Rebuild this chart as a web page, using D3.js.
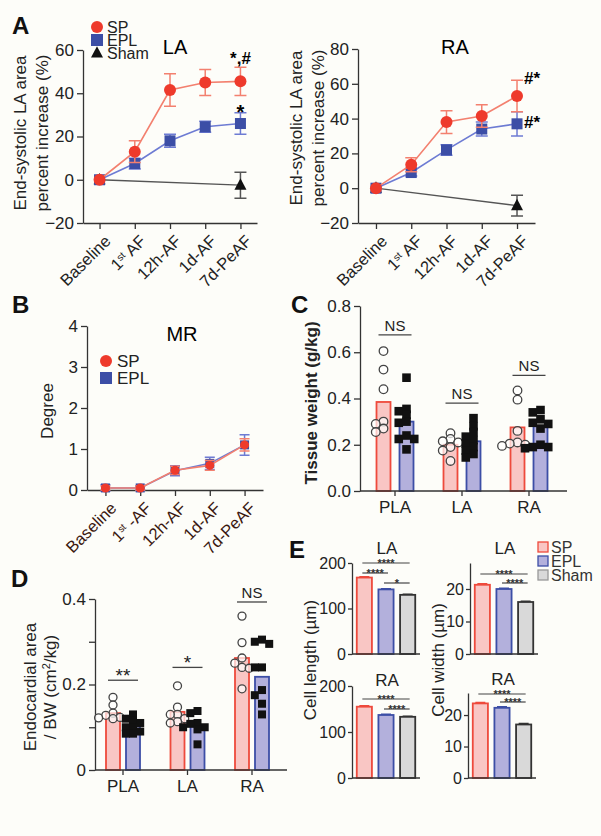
<!DOCTYPE html>
<html><head><meta charset="utf-8">
<script src="https://cdn.jsdelivr.net/npm/d3@7"></script>
<style>
body{margin:0;background:#fdfdf9;}
svg{display:block;font-family:"Liberation Sans",Arial,Helvetica,sans-serif;}
</style>
</head><body>
<svg id="fig" width="601" height="836"></svg>
<script>
// ---------------- DATA ----------------
const timepoints = ["Baseline", "1st AF", "12h-AF", "1d-AF", "7d-PeAF"];
const timepointsB = ["Baseline", "1st -AF", "12h-AF", "1d-AF", "7d-PeAF"];

const laSP = [0, 13, 41.5, 45, 45.5];
const laSPErr = [0, 5, 7.5, 6, 6.5];
const laEPL = [0, 7.5, 18, 24.5, 26];
const laEPLErr = [0, 2.5, 3, 2.5, 5];
const laSham = [0, null, null, null, -2.5];
const laShamErr = [0, null, null, null, 6];

const raSP = [0, 13.5, 38, 41.5, 53];
const raSPErr = [0, 4, 6.5, 6.5, 9];
const raEPL = [0, 9, 22, 34, 37];
const raEPLErr = [0, 2, 3, 4, 7];
const raSham = [0, null, null, null, -10];
const raShamErr = [0, null, null, null, 6];

const mrSP = [0.05, 0.05, 0.48, 0.6, 1.1];
const mrSPErr = [0.05, 0.05, 0.1, 0.12, 0.15];
const mrEPL = [0.05, 0.05, 0.47, 0.65, 1.1];
const mrEPLErr = [0.08, 0.05, 0.12, 0.15, 0.25];

const regions = ["PLA", "LA", "RA"];

// Panel C: tissue weight (g/kg)
const twSPMean = [0.385, 0.2, 0.275];
const twEPLMean = [0.30, 0.215, 0.28];
const twSPPts = [
  [0.605, 0.525, 0.44, 0.30, 0.29, 0.27, 0.255],
  [0.25, 0.225, 0.215, 0.21, 0.19, 0.175, 0.13],
  [0.435, 0.395, 0.26, 0.21, 0.205, 0.20, 0.195]
];
const twEPLPts = [
  [0.49, 0.355, 0.345, 0.33, 0.30, 0.295, 0.24, 0.225, 0.225, 0.18],
  [0.315, 0.28, 0.255, 0.235, 0.22, 0.205, 0.19, 0.175, 0.16, 0.145],
  [0.35, 0.34, 0.31, 0.295, 0.29, 0.27, 0.20, 0.19, 0.185, 0.19]
];
const twSig = ["NS", "NS", "NS"];
const twSigY = [0.675, 0.38, 0.50];

// Panel D: endocardial area / BW (cm2/kg)
const eaSPMean = [0.133, 0.136, 0.262];
const eaEPLMean = [0.103, 0.103, 0.218];
const eaSPPts = [
  [0.17, 0.152, 0.133, 0.128, 0.123, 0.12, 0.122],
  [0.197, 0.147, 0.13, 0.13, 0.12, 0.113, 0.11],
  [0.36, 0.298, 0.262, 0.25, 0.24, 0.238, 0.19]
];
const eaEPLPts = [
  [0.13, 0.12, 0.115, 0.11, 0.10, 0.10, 0.09, 0.085, 0.085],
  [0.138, 0.133, 0.11, 0.108, 0.10, 0.10, 0.095, 0.06],
  [0.305, 0.30, 0.295, 0.24, 0.24, 0.187, 0.175, 0.155, 0.13]
];
const eaSig = ["**", "*", "NS"];
const eaSigY = [0.21, 0.24, 0.393];

// Panel E: cell dimensions
const groupsE = ["SP", "EPL", "Sham"];
const lenLA = [168, 142, 130];
const lenLAErr = [2, 1.5, 1.5];
const widLA = [21.3, 20, 16];
const widLAErr = [0.3, 0.2, 0.2];
const lenRA = [155, 137, 133];
const lenRAErr = [2, 1.5, 1.5];
const widRA = [23.7, 22.3, 17];
const widRAErr = [0.3, 0.3, 0.3];

// ---------------- STYLES ----------------
const C = {
  sp: "#ee3a2c", spLine: "#f3806f", spFill: "#f9c6c4", spStroke: "#ee4a3c",
  epl: "#3c4ea6", eplLine: "#6d7bd3", eplFill: "#b3b0dc", eplStroke: "#3c4ea6",
  sham: "#111111", shamFill: "#d9d9d9", shamStroke: "#333333",
  axis: "#333333", text: "#222222"
};

const svg = d3.select("#fig");

function panelLabel(t, x, y) {
  svg.append("text").attr("x", x).attr("y", y).attr("font-size", 24)
    .attr("font-weight", "bold").attr("fill", "#111").text(t);
}

function addLabelText(sel, label) {
  const m = label.match(/^1st(.*)$/);
  if (m) {
    sel.text(null);
    sel.append("tspan").text("1");
    sel.append("tspan").attr("baseline-shift", "super").attr("font-size", "0.6em").text("st");
    sel.append("tspan").text(m[1]);
  } else sel.text(label);
}

function marker(g, shape, x, y, size, color) {
  if (shape === "circle") {
    g.append("circle").attr("cx", x).attr("cy", y).attr("r", size / 2).attr("fill", color);
  } else if (shape === "square") {
    g.append("rect").attr("x", x - size / 2).attr("y", y - size / 2)
      .attr("width", size).attr("height", size).attr("fill", color);
  } else {
    const h = size * 0.95;
    g.append("path").attr("d", `M${x},${y - h * 0.6}L${x + size / 2},${y + h * 0.4}L${x - size / 2},${y + h * 0.4}Z`)
      .attr("fill", color);
  }
}

function styleAxis(g, fs) {
  g.selectAll("path.domain").attr("stroke", C.axis).attr("stroke-width", 1.3);
  g.selectAll(".tick line").attr("stroke", C.axis).attr("stroke-width", 1.3);
  g.selectAll(".tick text").attr("font-size", fs).attr("fill", C.text)
    .attr("font-family", '"Liberation Sans",Arial,sans-serif');
}

// ---------------- LINE CHART ----------------
function lineChart(o) {
  const g = svg.append("g");
  const x = d3.scalePoint().domain(o.cats).range(o.xr).padding(o.pad);
  const y = d3.scaleLinear().domain(o.yd).range(o.yr);
  const ya = g.append("g").attr("transform", `translate(${o.xr[0]},0)`)
    .call(d3.axisLeft(y).tickValues(o.yticks).tickFormat(d3.format("d")).tickSize(6).tickSizeOuter(0).tickPadding(3));
  styleAxis(ya, o.fs);
  const xa = g.append("g").attr("transform", `translate(0,${o.yr[0]})`)
    .call(d3.axisBottom(x).tickSize(6).tickSizeOuter(0).tickFormat(""));
  styleAxis(xa, o.fs);
  o.cats.forEach((c) => {
    const t = g.append("text")
      .attr("transform", `translate(${x(c) + 4},${o.yr[0] + 11}) rotate(-45)`)
      .attr("text-anchor", "end").attr("dy", "0.7em")
      .attr("font-size", o.xfs).attr("fill", o.labelColor || C.text);
    addLabelText(t, c);
  });
  o.series.forEach(s => {
    const pts = s.vals.map((v, i) => ({ c: o.cats[i], v, e: s.errs[i] })).filter(d => d.v !== null);
    g.append("path").datum(pts)
      .attr("d", d3.line().x(d => x(d.c)).y(d => y(d.v)))
      .attr("fill", "none").attr("stroke", s.line).attr("stroke-width", s.lw || 1.6);
    pts.forEach(d => {
      if (d.e) {
        const cx = x(d.c), cap = o.cap;
        g.append("path")
          .attr("d", `M${cx},${y(d.v - d.e)}V${y(d.v + d.e)}M${cx - cap},${y(d.v + d.e)}h${cap * 2}M${cx - cap},${y(d.v - d.e)}h${cap * 2}`)
          .attr("stroke", s.line).attr("stroke-width", 1.5).attr("fill", "none");
      }
    });
    pts.forEach(d => marker(g, s.shape, x(d.c), y(d.v), s.size, s.color));
  });
  return { g, x, y };
}

function ylab2(x, y, l1, l2, fs, gap) {
  const t = svg.append("text").attr("transform", `translate(${x},${y}) rotate(-90)`)
    .attr("text-anchor", "middle").attr("font-size", fs).attr("fill", C.text);
  t.append("tspan").attr("x", 0).attr("dy", 0).text(l1);
  t.append("tspan").attr("x", 0).attr("dy", gap).text(l2);
}

// ---------------- PANEL A ----------------
panelLabel("A", 12, 34);
const aL = lineChart({
  cats: timepoints, xr: [83, 257], pad: 0.47, yd: [-20, 60], yr: [223, 50],
  yticks: [-20, 0, 20, 40, 60], fs: 17, xfs: 16.5, cap: 6,
  series: [
    { vals: laSham, errs: laShamErr, color: C.sham, line: "#555", shape: "tri", size: 12, lw: 1.3 },
    { vals: laEPL, errs: laEPLErr, color: C.epl, line: C.eplLine, shape: "square", size: 11 },
    { vals: laSP, errs: laSPErr, color: C.sp, line: C.spLine, shape: "circle", size: 12 }
  ]
});
svg.append("text").attr("x", 175).attr("y", 54).attr("text-anchor", "middle").attr("font-size", 20).text("LA");
svg.append("text").attr("x", aL.x("7d-PeAF")).attr("y", 64).attr("text-anchor", "middle").attr("font-size", 17).attr("font-weight", "bold").text("*,#");
svg.append("text").attr("x", aL.x("7d-PeAF")).attr("y", 119).attr("text-anchor", "middle").attr("font-size", 20).attr("font-weight", "bold").text("*");
[["SP", "circle", C.sp, 27], ["EPL", "square", C.epl, 40], ["Sham", "tri", C.sham, 53]].forEach(([t, sh, col, yy]) => {
  marker(svg, sh, 97, yy, 12, col);
  svg.append("text").attr("x", 107).attr("y", yy + 5.5).attr("font-size", 16).attr("fill", C.text).text(t);
});
ylab2(26, 133, "End-systolic LA area", "percent increase (%)", 17, 22);

const aR = lineChart({
  cats: timepoints, xr: [358, 535], pad: 0.51, yd: [-20, 80], yr: [223, 49],
  yticks: [-20, 0, 20, 40, 60, 80], fs: 17, xfs: 16.5, cap: 6,
  series: [
    { vals: raSham, errs: raShamErr, color: C.sham, line: "#555", shape: "tri", size: 12, lw: 1.3 },
    { vals: raEPL, errs: raEPLErr, color: C.epl, line: C.eplLine, shape: "square", size: 11 },
    { vals: raSP, errs: raSPErr, color: C.sp, line: C.spLine, shape: "circle", size: 12 }
  ]
});
svg.append("text").attr("x", 455).attr("y", 54).attr("text-anchor", "middle").attr("font-size", 20).text("RA");
svg.append("text").attr("x", 524).attr("y", 84).attr("font-size", 17).attr("font-weight", "bold").text("#*");
svg.append("text").attr("x", 524).attr("y", 128).attr("font-size", 17).attr("font-weight", "bold").text("#*");
ylab2(302, 128, "End-systolic LA area", "percent increase (%)", 17, 22);

// ---------------- PANEL B ----------------
panelLabel("B", 12, 313);
lineChart({
  cats: timepointsB, xr: [87, 263], pad: 0.53, yd: [0, 4], yr: [490, 326],
  yticks: [0, 1, 2, 3, 4], fs: 17, xfs: 16.5, cap: 5, labelColor: "#3a1810",
  series: [
    { vals: mrEPL, errs: mrEPLErr, color: C.epl, line: C.eplLine, shape: "square", size: 9 },
    { vals: mrSP, errs: mrSPErr, color: C.sp, line: C.spLine, shape: "circle", size: 9 }
  ]
});
svg.append("text").attr("x", 182).attr("y", 341).attr("text-anchor", "middle").attr("font-size", 20).text("MR");
[["SP", "circle", C.sp, 361], ["EPL", "square", C.epl, 378]].forEach(([t, sh, col, yy]) => {
  marker(svg, sh, 106, yy, 12, col);
  svg.append("text").attr("x", 117).attr("y", yy + 6).attr("font-size", 17).attr("fill", C.text).text(t);
});
svg.append("text").attr("transform", "translate(53,411) rotate(-90)").attr("text-anchor", "middle")
  .attr("font-size", 17).attr("fill", C.text).text("Degree");

// ---------------- BAR + SCATTER ----------------
function dodge(vals, y, minDist, step) {
  const placed = [];
  const order = vals.map((v, i) => i).sort((a, b) => vals[b] - vals[a]);
  const offs = [0, -step, step, -2 * step, 2 * step, -3 * step, 3 * step];
  const res = new Array(vals.length);
  order.forEach(i => {
    const py = y(vals[i]);
    for (const o of offs) {
      if (placed.every(p => Math.hypot(p.x - o, p.y - py) >= minDist)) {
        placed.push({ x: o, y: py }); res[i] = o; break;
      }
    }
    if (res[i] === undefined) { res[i] = 0; }
  });
  return res;
}

function scatterBar(o) {
  const g = svg.append("g");
  const x = d3.scalePoint().domain(regions).range(o.xc);
  const y = d3.scaleLinear().domain(o.yd).range(o.yr);
  regions.forEach((r, i) => {
    [[o.spMean[i], -o.off, C.spFill, C.spStroke], [o.eplMean[i], o.off, C.eplFill, C.eplStroke]].forEach(([v, off, f, s]) => {
      g.append("rect").attr("x", x(r) + off - o.bw / 2).attr("y", y(v))
        .attr("width", o.bw).attr("height", y(0) - y(v))
        .attr("fill", f).attr("stroke", s).attr("stroke-width", 1.8);
    });
  });
  const ya = g.append("g").attr("transform", `translate(${o.xa[0]},0)`)
    .call(d3.axisLeft(y).tickValues(o.yticks).tickFormat(o.tf).tickSize(6).tickSizeOuter(0).tickPadding(3));
  styleAxis(ya, o.fs);
  g.append("line").attr("x1", o.xa[0]).attr("x2", o.xa[1]).attr("y1", y(0)).attr("y2", y(0))
    .attr("stroke", C.axis).attr("stroke-width", 1.3);
  regions.forEach(r => {
    g.append("line").attr("x1", x(r)).attr("x2", x(r)).attr("y1", y(0)).attr("y2", y(0) + 5)
      .attr("stroke", C.axis).attr("stroke-width", 1.3);
    g.append("text").attr("x", x(r)).attr("y", y(0) + 22).attr("text-anchor", "middle")
      .attr("font-size", 17).attr("fill", C.text).text(r);
  });
  regions.forEach((r, i) => {
    const sp = o.spPts[i], ep = o.eplPts[i];
    const ds = dodge(sp, y, o.pr * 1.3, o.pr * 1.8);
    sp.forEach((v, j) => g.append("circle").attr("cx", x(r) - o.off + ds[j]).attr("cy", y(v))
      .attr("r", o.pr).attr("fill", "rgba(255,255,255,0.7)").attr("stroke", "#444").attr("stroke-width", 1.3));
    const de = dodge(ep, y, o.pr * 1.3, o.pr * 1.8);
    ep.forEach((v, j) => g.append("rect").attr("x", x(r) + o.off + de[j] - o.pr).attr("y", y(v) - o.pr)
      .attr("width", o.pr * 2).attr("height", o.pr * 2).attr("fill", "#111"));
  });
  regions.forEach((r, i) => {
    const yy = y(o.sigY[i]);
    g.append("line").attr("x1", x(r) - o.off - 5).attr("x2", x(r) + o.off + 5).attr("y1", yy).attr("y2", yy)
      .attr("stroke", "#444").attr("stroke-width", 1.3);
    g.append("text").attr("x", x(r)).attr("y", yy - (o.sig[i] === "NS" ? 4 : -2)).attr("text-anchor", "middle")
      .attr("font-size", o.sig[i] === "NS" ? 15 : 19).attr("fill", C.text).text(o.sig[i]);
  });
  return { x, y };
}

// ---------------- PANEL C ----------------
panelLabel("C", 291, 313);
scatterBar({
  xc: [395, 529], xa: [360, 567], yd: [0, 0.8], yr: [491, 306],
  yticks: [0, 0.2, 0.4, 0.6, 0.8], tf: d3.format(".1f"), fs: 17,
  spMean: twSPMean, eplMean: twEPLMean, spPts: twSPPts, eplPts: twEPLPts,
  sig: twSig, sigY: twSigY, off: 11.5, bw: 14, pr: 4.3
});
svg.append("text").attr("transform", "translate(317,403) rotate(-90)").attr("text-anchor", "middle")
  .attr("font-size", 17).attr("font-weight", "bold").attr("fill", C.text).text("Tissue weight (g/kg)");

// ---------------- PANEL D ----------------
panelLabel("D", 11, 587);
scatterBar({
  xc: [123, 252], xa: [95, 287], yd: [0, 0.4], yr: [770, 599],
  yticks: [0, 0.1, 0.2, 0.3, 0.4], tf: d => (d === 0 ? "0" : (Math.round(d * 10) % 2 === 0 ? d3.format(".1f")(d) : "")), fs: 17,
  spMean: eaSPMean, eplMean: eaEPLMean, spPts: eaSPPts, eplPts: eaEPLPts,
  sig: eaSig, sigY: eaSigY, off: 10, bw: 14, pr: 4
});
{
  const t = svg.append("text").attr("transform", "translate(36,687) rotate(-90)")
    .attr("text-anchor", "middle").attr("font-size", 17).attr("fill", C.text);
  t.append("tspan").attr("x", 0).text("Endocardial area");
  const t2 = t.append("tspan").attr("x", 0).attr("dy", 20);
  t2.append("tspan").text("/ BW (cm");
  t2.append("tspan").attr("baseline-shift", "super").attr("font-size", "0.65em").text("2");
  t2.append("tspan").text("/kg)");
}

// ---------------- PANEL E ----------------
panelLabel("E", 289, 558);
function barE(o) {
  const g = svg.append("g");
  const x = d3.scaleBand().domain(groupsE).range(o.xr).padding(0.3).paddingOuter(0.22);
  const y = d3.scaleLinear().domain(o.yd).range(o.yr);
  const fills = [C.spFill, C.eplFill, C.shamFill], strokes = [C.spStroke, C.eplStroke, C.shamStroke];
  groupsE.forEach((gr, i) => {
    const v = o.vals[i], e = o.errs[i], cx = x(gr) + x.bandwidth() / 2;
    g.append("rect").attr("x", x(gr)).attr("y", y(v)).attr("width", x.bandwidth()).attr("height", y(0) - y(v))
      .attr("fill", fills[i]).attr("stroke", strokes[i]).attr("stroke-width", 1.8);
    g.append("path").attr("d", `M${cx},${y(v)}V${y(v + e)}M${cx - 5},${y(v + e)}h10`)
      .attr("stroke", strokes[i]).attr("stroke-width", 1.5);
  });
  const ya = g.append("g").attr("transform", `translate(${o.xr[0]},0)`)
    .call(d3.axisLeft(y).tickValues(o.yticks).tickSize(4).tickSizeOuter(0).tickPadding(2));
  styleAxis(ya, 16);
  g.append("line").attr("x1", o.xr[0]).attr("x2", o.xr[1]).attr("y1", y(0)).attr("y2", y(0))
    .attr("stroke", C.axis).attr("stroke-width", 1.3);
  g.append("text").attr("x", (o.xr[0] + o.xr[1]) / 2 + 1).attr("y", o.titleY).attr("text-anchor", "middle")
    .attr("font-size", 17).attr("fill", C.text).text(o.title);
  o.sig.forEach(([a, b, txt, yy]) => {
    const x1 = x(a) + x.bandwidth() / 2 - 2, x2 = x(b) + x.bandwidth() / 2 + 2;
    g.append("line").attr("x1", x1).attr("x2", x2).attr("y1", yy).attr("y2", yy).attr("stroke", "#444").attr("stroke-width", 1.2);
    g.append("text").attr("x", (x1 + x2) / 2).attr("y", yy + 4).attr("text-anchor", "middle")
      .attr("font-size", 11).attr("font-weight", "bold").attr("fill", "#333").text(txt);
  });
}
barE({ xr: [352, 420], yd: [0, 200], yr: [654, 563], yticks: [0, 100, 200], vals: lenLA, errs: lenLAErr,
  title: "LA", titleY: 554, sig: [["SP", "Sham", "****", 563], ["SP", "EPL", "****", 573], ["EPL", "Sham", "*", 583]] });
barE({ xr: [470, 538], yd: [0, 28], yr: [654, 563], yticks: [0, 10, 20], vals: widLA, errs: widLAErr,
  title: "LA", titleY: 554, sig: [["SP", "Sham", "****", 574], ["EPL", "Sham", "****", 583]] });
barE({ xr: [352, 420], yd: [0, 200], yr: [778, 686], yticks: [0, 100, 200], vals: lenRA, errs: lenRAErr,
  title: "RA", titleY: 686, sig: [["SP", "Sham", "****", 699], ["EPL", "Sham", "****", 709]] });
barE({ xr: [468, 536], yd: [0, 27], yr: [778, 693], yticks: [0, 10, 20], vals: widRA, errs: widRAErr,
  title: "RA", titleY: 685, sig: [["SP", "Sham", "****", 694], ["EPL", "Sham", "****", 702]] });

svg.append("text").attr("transform", "translate(316,660) rotate(-90)").attr("text-anchor", "middle")
  .attr("font-size", 17).attr("fill", C.text).text("Cell length (\u00b5m)");
svg.append("text").attr("transform", "translate(444,660) rotate(-90)").attr("text-anchor", "middle")
  .attr("font-size", 17).attr("fill", C.text).text("Cell width (\u00b5m)");

[["SP", C.spFill, C.spStroke], ["EPL", C.eplFill, C.eplStroke], ["Sham", C.shamFill, "#999"]].forEach(([t, f, s], i) => {
  const yy = 547 + i * 14;
  svg.append("rect").attr("x", 538).attr("y", yy - 5).attr("width", 10).attr("height", 10)
    .attr("fill", f).attr("stroke", s).attr("stroke-width", 1.3);
  svg.append("text").attr("x", 551).attr("y", yy + 6).attr("font-size", 16).attr("fill", "#333").text(t);
});
</script>
</body></html>
